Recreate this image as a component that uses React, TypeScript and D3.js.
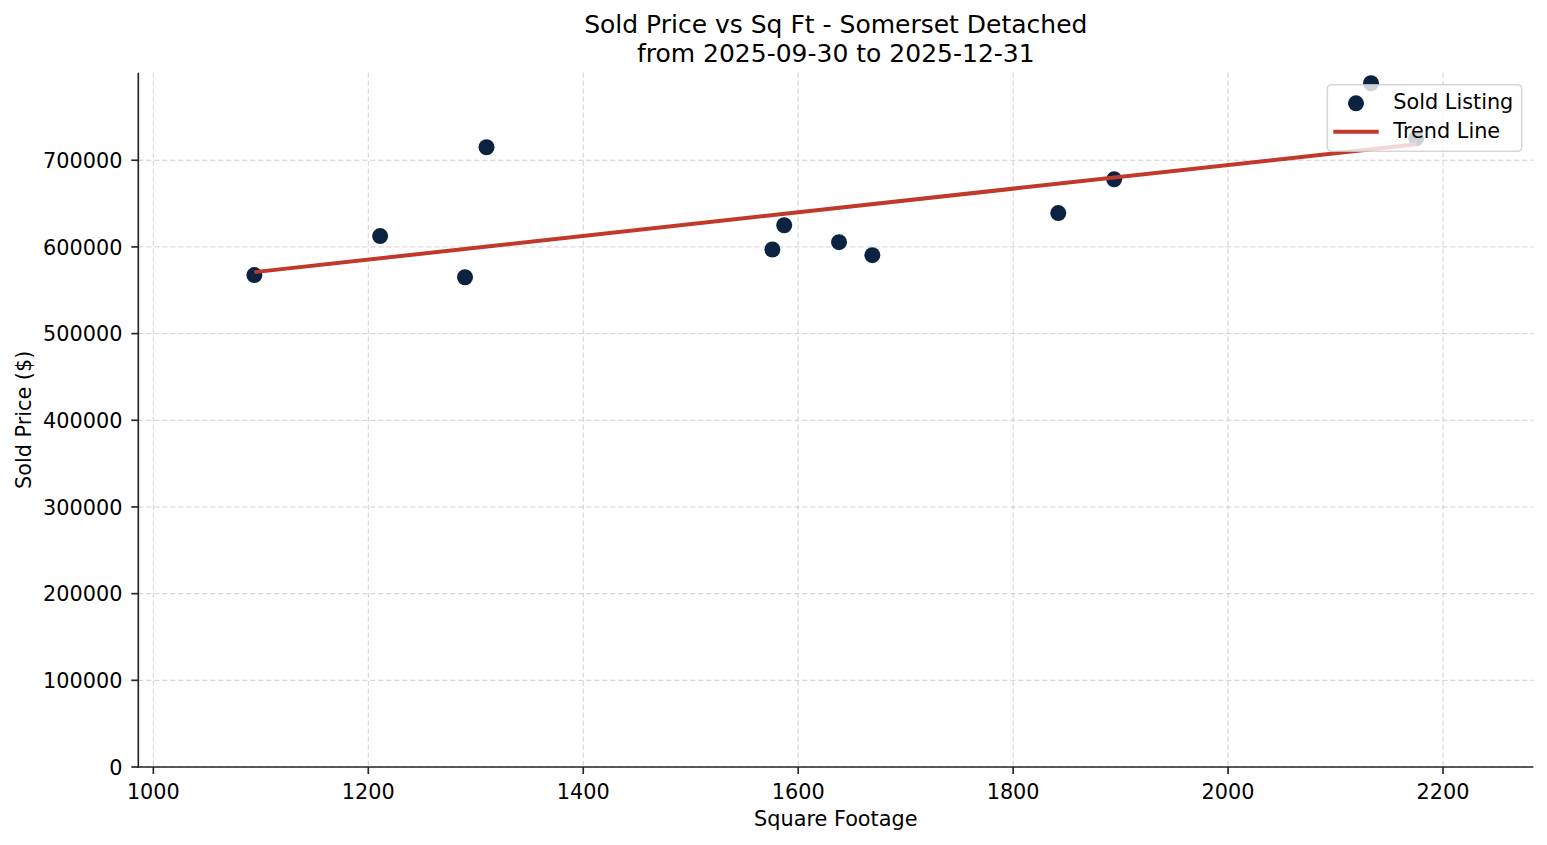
import React from "react";
import * as d3 from "d3";

const sqft = [1094, 1211, 1290, 1310, 1576, 1587, 1638, 1669, 1842, 1894, 2133, 2175];
const soldPrice = [567500, 612500, 565000, 715000, 597000, 625000, 605500, 590500, 639000, 678000, 788800, 725300];
const xTicks = [1000, 1200, 1400, 1600, 1800, 2000, 2200];
const yTicks = [0, 100000, 200000, 300000, 400000, 500000, 600000, 700000];
const titleLines = ["Sold Price vs Sq Ft - Somerset Detached", "from 2025-09-30 to 2025-12-31"];
const legendLabels = ["Sold Listing", "Trend Line"];

const W = 1547;
const H = 845;
const L = 138.3, R = 1533.3, T = 72.7, B = 767;
const FONT = "'DejaVu Sans', Verdana, sans-serif";
const FS = 20.8;
const POINT = "#0c2241";
const TREND = "#c0392b";
const AXIS = "#262626";

export default function App() {
  const x = d3.scaleLinear().domain([986, 2284]).range([L, R]);
  const y = d3.scaleLinear().domain([0, 801000]).range([B, T]);

  // least-squares fit
  const mx = d3.mean(sqft)!;
  const my = d3.mean(soldPrice)!;
  let num = 0, den = 0;
  sqft.forEach((v, i) => {
    num += (v - mx) * (soldPrice[i] - my);
    den += (v - mx) * (v - mx);
  });
  const slope = num / den;
  const icpt = my - slope * mx;
  const [x0, x1] = d3.extent(sqft) as [number, number];
  const trendPts: [number, number][] = [
    [x0, icpt + slope * x0],
    [x1, icpt + slope * x1],
  ];
  const line = d3
    .line<[number, number]>()
    .x((d) => x(d[0]))
    .y((d) => y(d[1]));

  const legX = 1327.3, legY = 84.7, legW = 194.4, legH = 66.6;

  return (
    <svg width={W} height={H} style={{ position: "absolute", left: 0, top: 0, background: "#fff" }} fontFamily={FONT}>
      <rect x={0} y={0} width={W} height={H} fill="#fff" />
      {/* grid */}
      <g stroke="#cfcfcf" strokeWidth={1} strokeDasharray="5,3">
        {xTicks.map((t) => (
          <line key={"gx" + t} x1={x(t)} x2={x(t)} y1={T} y2={B} />
        ))}
        {yTicks.map((t) => (
          <line key={"gy" + t} x1={L} x2={R} y1={y(t)} y2={y(t)} />
        ))}
      </g>
      {/* points */}
      <g fill={POINT}>
        {sqft.map((v, i) => (
          <circle key={"p" + i} cx={x(v)} cy={y(soldPrice[i])} r={8} />
        ))}
      </g>
      {/* trend */}
      <path d={line(trendPts)!} fill="none" stroke={TREND} strokeWidth={4} />
      {/* axes */}
      <g stroke={AXIS} strokeWidth={1.67}>
        <line x1={L} x2={L} y1={T} y2={B + 0.8} />
        <line x1={L - 0.8} x2={R} y1={B} y2={B} />
        {xTicks.map((t) => (
          <line key={"tx" + t} x1={x(t)} x2={x(t)} y1={B} y2={B + 7} />
        ))}
        {yTicks.map((t) => (
          <line key={"ty" + t} x1={L - 7} x2={L} y1={y(t)} y2={y(t)} />
        ))}
      </g>
      <g fontSize={FS} fill="#000">
        {xTicks.map((t) => (
          <text key={"lx" + t} x={x(t)} y={798.5} textAnchor="middle">
            {t}
          </text>
        ))}
        {yTicks.map((t) => (
          <text key={"ly" + t} x={122.5} y={y(t) + 7.6} textAnchor="end">
            {t}
          </text>
        ))}
      </g>
      {/* axis labels */}
      <text x={(L + R) / 2} y={826} fontSize={FS} textAnchor="middle">
        Square Footage
      </text>
      <text transform={`translate(31,${(T + B) / 2}) rotate(-90)`} fontSize={FS} textAnchor="middle">
        Sold Price ($)
      </text>
      {/* title */}
      <text x={(L + R) / 2} y={33.3} fontSize={25} textAnchor="middle">
        {titleLines[0]}
      </text>
      <text x={(L + R) / 2} y={61.7} fontSize={25} textAnchor="middle">
        {titleLines[1]}
      </text>
      {/* legend */}
      <rect x={legX} y={legY} width={legW} height={legH} rx={4} fill="#fff" fillOpacity={0.8} stroke="#cccccc" strokeOpacity={0.8} strokeWidth={1.6} />
      <circle cx={1356} cy={103.3} r={8} fill={POINT} />
      <line x1={1333.3} x2={1378.7} y1={131.7} y2={131.7} stroke={TREND} strokeWidth={4} />
      <text x={1393.3} y={109.3} fontSize={FS}>
        {legendLabels[0]}
      </text>
      <text x={1393.3} y={138.3} fontSize={FS}>
        {legendLabels[1]}
      </text>
    </svg>
  );
}
